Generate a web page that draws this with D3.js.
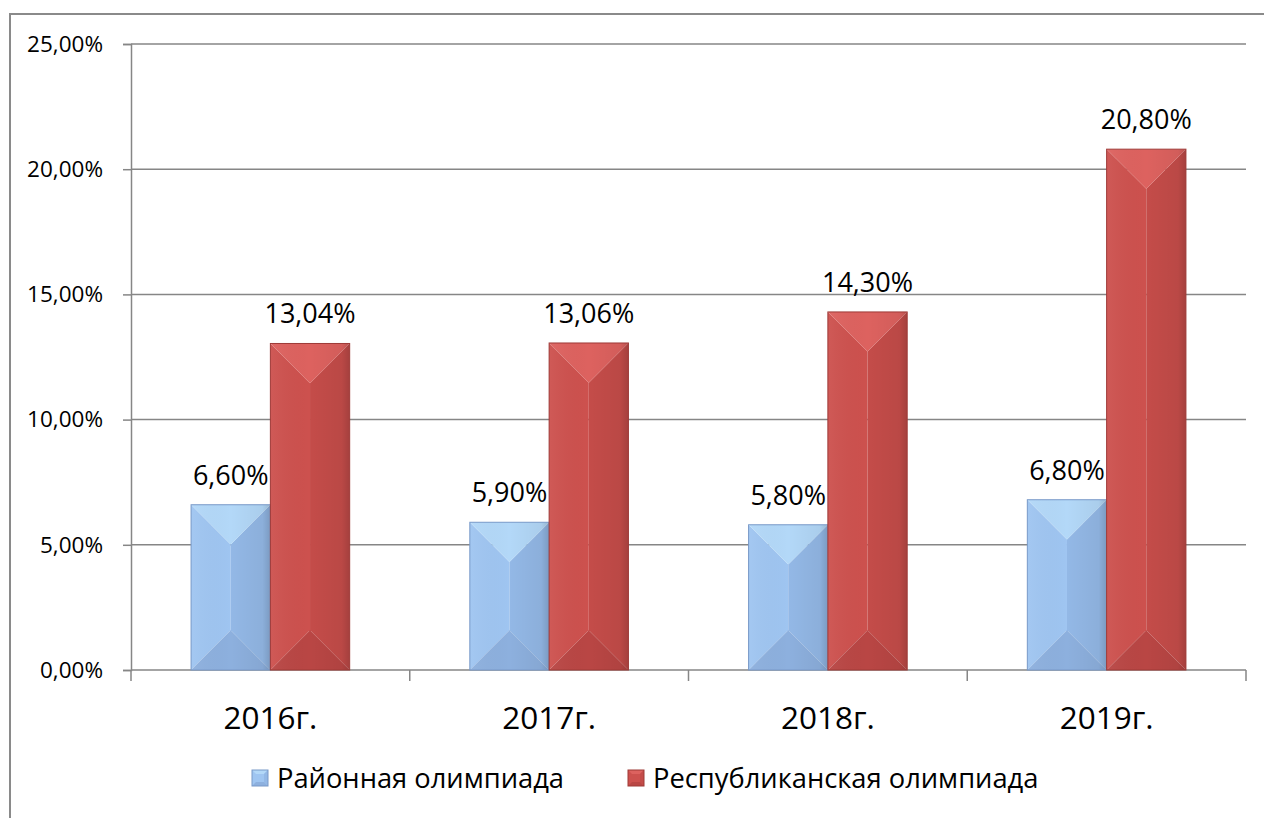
<!DOCTYPE html>
<html><head><meta charset="utf-8">
<script src="https://cdn.jsdelivr.net/npm/d3@7"></script>
<style>
html,body{margin:0;padding:0;background:#fff;}
svg{display:block;font-family:"Open Sans",sans-serif;}
</style></head>
<body>
<svg id="chart" width="1264" height="818"></svg>
<script>
const categories = ["2016г.", "2017г.", "2018г.", "2019г."];
const seriesNames = ["Районная олимпиада", "Республиканская олимпиада"];
const rayonValues = [6.60, 5.90, 5.80, 6.80];
const respValues = [13.04, 13.06, 14.30, 20.80];
const yTicks = [0, 5, 10, 15, 20, 25];

const fmt = (v, d) => v.toFixed(d).replace(".", ",") + "%";

const svg = d3.select("#chart");
const W = 1264, H = 818;
const plot = {left: 131, right: 1246, top: 44, bottom: 670};

// outer border
svg.append("rect").attr("x", 10).attr("y", 14).attr("width", W).attr("height", H)
  .attr("fill", "none").attr("stroke", "#8a8a8a").attr("stroke-width", 2);

const y = d3.scaleLinear().domain([0, 25]).range([plot.bottom, plot.top]);
const x0 = d3.scaleBand().domain(categories).range([plot.left, plot.right]).padding(0);
const bw = x0.bandwidth();
const x1 = d3.scaleBand().domain(seriesNames).range([bw * 0.2155, bw * 0.7845]).padding(0);

// gridlines
svg.append("g").selectAll("line").data(yTicks.slice(1)).join("line")
  .attr("x1", plot.left).attr("x2", plot.right)
  .attr("y1", d => y(d)).attr("y2", d => y(d))
  .attr("stroke", "#868686").attr("stroke-width", 1.5);

// y axis
const yAxis = d3.axisLeft(y).tickValues(yTicks).tickSize(8).tickPadding(20).tickFormat(d => fmt(d, 2));
const gy = svg.append("g").attr("transform", `translate(${plot.left},0)`).call(yAxis);
gy.select(".domain").attr("stroke", "#868686").attr("stroke-width", 1.5);
gy.selectAll(".tick line").attr("stroke", "#868686").attr("stroke-width", 1.5);
gy.selectAll(".tick text").attr("font-size", 22.5).attr("fill", "#000")
  .attr("font-family", "Open Sans, sans-serif");

// x axis
const gx = svg.append("g").attr("transform", `translate(0,${plot.bottom})`);
gx.append("line").attr("x1", plot.left).attr("x2", plot.right).attr("y1", 0).attr("y2", 0)
  .attr("stroke", "#868686").attr("stroke-width", 1.5);
const boundaries = categories.map(c => x0(c)).concat([plot.right]);
gx.selectAll("line.tk").data(boundaries).join("line").attr("class", "tk")
  .attr("x1", d => d).attr("x2", d => d).attr("y1", 0).attr("y2", 11)
  .attr("stroke", "#868686").attr("stroke-width", 1.5);
gx.selectAll("text").data(categories).join("text")
  .attr("x", d => x0(d) + bw / 2).attr("y", 59)
  .attr("text-anchor", "middle").attr("font-size", 31.5).attr("fill", "#000")
  .text(d => d);

// bar styles
const styles = [
  {top: "#b3d8f8", left: "#9fc5f1", right: "#93b8e6", bottom: "#8db0de", stroke: "#7899c8"},
  {top: "#dd625f", left: "#cd514e", right: "#c44c49", bottom: "#b94644", stroke: "#9e3a37"}
];

const data = [];
categories.forEach((c, i) => {
  data.push({cat: c, s: 0, v: rayonValues[i]});
  data.push({cat: c, s: 1, v: respValues[i]});
});

const defs = svg.append("defs");
const grad = defs.append("linearGradient").attr("id", "shade").attr("x1", 0).attr("x2", 1).attr("y1", 0).attr("y2", 0);
grad.append("stop").attr("offset", "0").attr("stop-color", "#fff").attr("stop-opacity", 0.05);
grad.append("stop").attr("offset", "0.5").attr("stop-color", "#000").attr("stop-opacity", 0.0);
grad.append("stop").attr("offset", "0.9").attr("stop-color", "#000").attr("stop-opacity", 0.05);
grad.append("stop").attr("offset", "1").attr("stop-color", "#000").attr("stop-opacity", 0.16);

svg.append("g").selectAll("g").data(data).join("g").each(function(d) {
  const g = d3.select(this);
  const st = styles[d.s];
  const xl = x0(d.cat) + x1(seriesNames[d.s]);
  const w = x1.bandwidth();
  const yt = y(d.v), yb = y(0);
  const b = Math.min(w / 2, (yb - yt) / 2);
  const xr = xl + w, xc = xl + w / 2;
  const pts = a => a.map(p => p.join(",")).join(" ");
  g.append("polygon").attr("points", pts([[xl, yt], [xc, yt + b], [xc, yb - b], [xl, yb]])).attr("fill", st.left);
  g.append("polygon").attr("points", pts([[xr, yt], [xc, yt + b], [xc, yb - b], [xr, yb]])).attr("fill", st.right);
  g.append("polygon").attr("points", pts([[xl, yt], [xr, yt], [xc, yt + b]])).attr("fill", st.top);
  g.append("polygon").attr("points", pts([[xl, yb], [xr, yb], [xc, yb - b]])).attr("fill", st.bottom);
  g.append("rect").attr("x", xl).attr("y", yt).attr("width", w).attr("height", yb - yt)
    .attr("fill", "url(#shade)").attr("stroke", st.stroke).attr("stroke-width", 1);
  g.append("text").attr("x", xc).attr("y", yt - 20).attr("text-anchor", "middle")
    .attr("font-size", 27).attr("fill", "#000").text(fmt(d.v, 2));
});

// legend
const legend = svg.append("g");
const legItems = [{name: seriesNames[0], x: 252, s: 0}, {name: seriesNames[1], x: 628, s: 1}];
legItems.forEach(it => {
  const st = styles[it.s];
  const g = legend.append("g");
  const lx = it.x, ly = 770, sz = 16, b = 4;
  const pts = a => a.map(p => p.join(",")).join(" ");
  g.append("rect").attr("x", lx).attr("y", ly).attr("width", sz).attr("height", sz).attr("fill", st.left);
  g.append("polygon").attr("points", pts([[lx, ly], [lx + sz, ly], [lx + sz - b, ly + b], [lx + b, ly + b]])).attr("fill", st.top);
  g.append("polygon").attr("points", pts([[lx + sz, ly], [lx + sz, ly + sz], [lx + sz - b, ly + sz - b], [lx + sz - b, ly + b]])).attr("fill", st.right);
  g.append("polygon").attr("points", pts([[lx, ly + sz], [lx + sz, ly + sz], [lx + sz - b, ly + sz - b], [lx + b, ly + sz - b]])).attr("fill", st.bottom);
  g.append("rect").attr("x", lx).attr("y", ly).attr("width", sz).attr("height", sz).attr("fill", "none").attr("stroke", st.stroke);
  g.append("text").attr("x", lx + sz + 9).attr("y", ly + 18).attr("font-size", 27.3).attr("fill", "#000").text(it.name);
});
</script>
</body></html>
